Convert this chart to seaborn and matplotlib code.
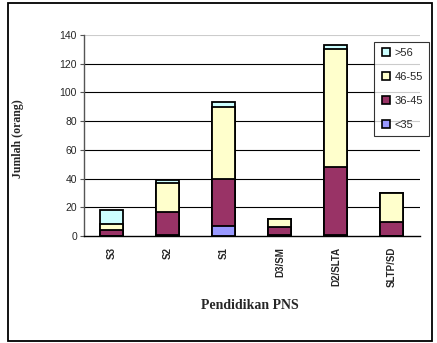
import numpy as np
import pandas as pd
import matplotlib
matplotlib.use("Agg")
import matplotlib.pyplot as plt
import seaborn as sns
from matplotlib.patches import Rectangle
from matplotlib.lines import Line2D

categories = ["S3", "S2", "S1", "D3/SM", "D2/SLTA", "SLTP/SD"]
lt35 = [0, 1, 7, 1, 1, 0]
a36_45 = [4, 16, 33, 5, 47, 10]
a46_55 = [4, 20, 50, 6, 82, 20]
gt56 = [10, 2, 3, 0, 3, 0]
series_names = ["<35", "36-45", "46-55", ">56"]
colors = ["#9999FF", "#993366", "#FFFFCC", "#CCFFFF"]
yticks = [0, 20, 40, 60, 80, 100, 120, 140]

sns.set_theme(style="white")
plt.rcParams['font.family'] = ['Liberation Sans', 'DejaVu Sans']

df = pd.DataFrame({"cat": categories, "<35": lt35, "36-45": a36_45,
                   "46-55": a46_55, ">56": gt56})
cum = df[series_names].cumsum(axis=1)

fig = plt.figure(figsize=(4.37, 3.43), dpi=100)
ax = fig.add_axes([0.192, 0.312, 0.769, 0.586])

# gridlines
for y in yticks[1:-1]:
    ax.axhline(y, color="black", lw=0.8, zorder=0)
ax.axhline(140, color="#cccccc", lw=0.8, zorder=0)

for name, col in reversed(list(zip(series_names, colors))):
    sns.barplot(x=df["cat"], y=cum[name], color=col, edgecolor="black",
                linewidth=1.3, width=0.41, saturation=1, ax=ax, zorder=2)

ax.set_ylim(0, 140)
ax.set_xlim(-0.5, 5.5)
ax.set_yticks(yticks)
ax.set_yticklabels([str(v) for v in yticks], fontsize=7.5)
ax.set_xticks(range(len(categories)))
ax.set_xticklabels(categories, rotation=90, fontsize=7, fontweight="bold",
                   va="top", ha="center")
ax.set_xticks(np.arange(-0.5, 5.6, 1.0), minor=True)
ax.tick_params(axis="x", which="major", length=0, pad=8)
ax.tick_params(axis="x", which="minor", length=4, width=0.8, color="black", direction="out")
ax.tick_params(axis="y", length=3, width=0.8, color="#555555", direction="out", left=True, pad=2)
for s in ["top", "right"]:
    ax.spines[s].set_visible(False)
ax.spines["left"].set_color("#555555")
ax.spines["left"].set_linewidth(1.0)
ax.spines["bottom"].set_color("black")
ax.spines["bottom"].set_linewidth(1.0)
ax.set_xlabel("")
ax.set_ylabel("")

fig.text(0.042, 0.595, "Jumlah (orang)", rotation=90, fontsize=8.5, fontweight="bold",
         family=["Liberation Serif", "DejaVu Serif"], ha="center", va="center")
fig.text(0.572, 0.108, "Pendidikan PNS", fontsize=10, fontweight="bold",
         family=["Liberation Serif", "DejaVu Serif"], ha="center", va="center")

handles = [Line2D([0], [0], marker="s", linestyle="none", markersize=6,
                  markerfacecolor=c, markeredgecolor="black", markeredgewidth=1.2)
           for c in colors]
leg = fig.legend(handles[::-1], series_names[::-1], loc="upper left",
                 bbox_to_anchor=(0.856, 0.877), frameon=True, fontsize=8,
                 handlelength=1.0, handletextpad=0.3, labelspacing=1.25,
                 borderpad=0.55, borderaxespad=0.0, fancybox=False, edgecolor="black")
leg.get_frame().set_linewidth(0.8)
leg.get_frame().set_facecolor("white")

fig.patches.append(Rectangle((8 / 437, 2 / 343), 424 / 437, 338 / 343,
                             transform=fig.transFigure, fill=False,
                             edgecolor="black", linewidth=1.3))

fig.savefig("out.png", dpi=100)
